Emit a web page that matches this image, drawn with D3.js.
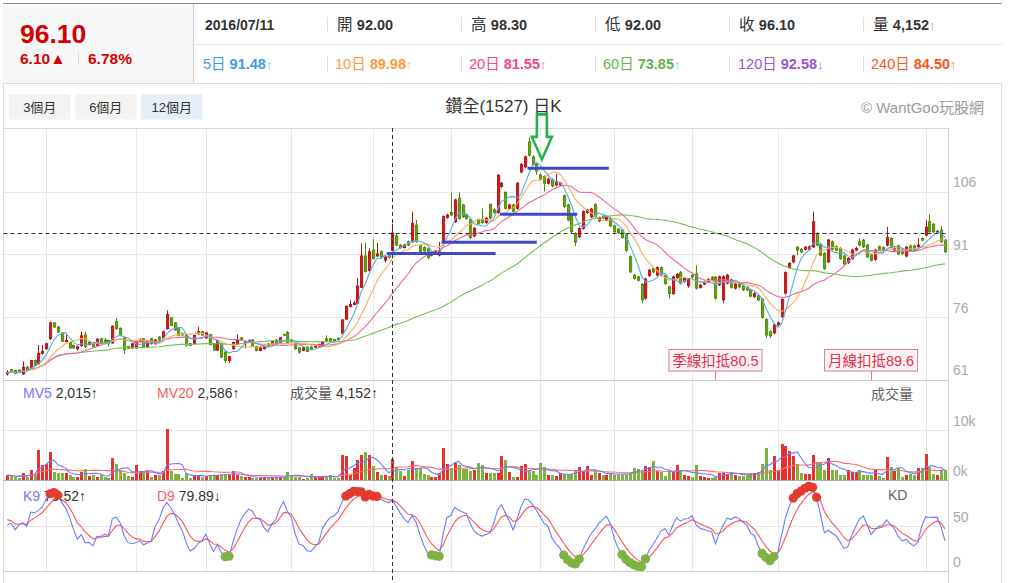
<!DOCTYPE html>
<html><head><meta charset="utf-8">
<script src="https://cdn.jsdelivr.net/npm/d3@7"></script>
<style>
html,body{margin:0;padding:0;background:#fff;}
svg{display:block;font-family:'Liberation Sans',Arial,'Noto Sans CJK TC',sans-serif;}
</style>
</head><body>
<svg id="c" width="1010" height="583"></svg>
<script>
// ---------------- DATA ----------------
const opens=[62.4,63.4,63.2,63.3,62.4,64.0,63.6,65.6,64.8,67.3,
68.4,70.8,74.6,73.6,72.2,70.1,69.9,69.2,68.4,69.2,
71.7,69.4,69.9,69.2,70.8,70.5,70.4,69.8,74.9,73.3,
71.0,68.9,68.6,68.6,70.2,70.8,68.9,70.8,69.6,71.2,
71.0,73.2,75.8,74.6,73.4,72.1,71.6,69.6,69.7,72.0,
72.5,71.0,71.8,69.6,68.1,69.6,67.6,65.6,68.4,69.6,
71.0,69.8,70.1,70.5,68.9,68.0,68.4,69.6,69.3,70.5,
69.8,71.8,72.3,70.5,69.7,68.6,68.0,68.8,68.8,68.8,
68.8,69.2,70.8,70.8,70.6,70.9,72.1,75.5,78.5,79.0,
79.3,83.1,90.6,87.1,92.0,90.6,91.6,89.6,91.2,92.0,
95.4,93.2,92.6,94.0,94.0,98.0,93.0,92.6,92.3,90.8,
91.1,90.8,94.0,99.8,101.0,98.8,104.4,102.8,100.4,99.3,
95.4,99.1,99.2,98.6,102.9,101.6,101.0,107.2,105.8,102.0,
102.8,102.0,110.7,111.9,117.9,114.3,112.5,110.0,109.6,108.0,
108.8,107.6,107.6,105.0,102.8,100.4,96.0,95.2,97.2,101.0,
100.0,102.9,99.0,100.1,99.2,99.6,97.8,97.0,96.8,95.8,
90.4,86.0,85.6,83.8,80.5,85.9,87.6,86.0,87.8,86.0,
83.2,81.6,85.4,86.6,84.5,83.5,86.0,86.3,83.1,83.9,
84.5,85.5,85.5,83.7,80.1,84.1,84.9,82.9,83.9,83.4,
83.1,82.5,80.9,81.1,80.2,75.4,72.5,72.2,74.1,76.1,
81.7,87.9,89.2,92.7,92.2,92.2,92.2,92.8,96.0,93.2,
91.2,89.2,94.0,92.8,92.4,90.6,89.0,90.0,92.0,94.0,
94.4,93.2,90.8,89.8,92.8,92.6,93.2,94.8,92.0,93.0,
92.0,90.6,93.0,93.0,92.8,94.8,95.6,98.8,98.2,96.2,
96.8,94.4];
const highs=[63.3,63.6,63.4,63.5,65.4,64.3,65.7,65.8,69.3,69.3,
69.8,74.9,74.8,73.8,72.4,71.7,70.1,69.4,69.1,72.5,
72.5,70.2,70.1,70.9,71.0,70.9,70.6,74.0,75.8,73.5,
71.2,69.1,69.8,70.3,70.9,71.0,70.4,71.0,70.7,71.4,
72.7,77.6,76.0,74.8,73.6,72.3,71.8,69.8,71.8,73.6,
72.7,72.4,72.0,69.8,70.6,69.8,67.8,66.7,70.1,71.8,
71.2,70.4,70.6,70.7,69.1,68.8,69.2,69.8,70.4,70.7,
71.2,72.0,72.7,70.7,69.9,68.8,68.8,69.0,69.0,69.4,
69.6,70.2,71.6,71.0,70.8,71.1,75.5,78.8,80.0,79.8,
85.3,93.6,93.8,92.4,94.6,93.7,92.0,90.8,91.5,98.3,
96.0,93.5,93.5,94.3,101.2,99.2,93.3,92.9,92.6,91.7,
91.9,94.0,100.3,100.7,105.8,104.3,105.8,103.1,100.7,99.6,
97.5,99.4,102.0,99.9,103.2,102.0,110.2,108.3,106.1,103.1,
103.1,108.3,112.8,114.6,119.0,114.8,112.8,110.3,109.9,109.3,
109.2,110.3,108.3,105.3,103.1,100.7,96.3,97.5,101.5,101.9,
102.1,103.2,100.0,100.4,100.3,99.9,98.1,97.3,97.1,96.1,
90.7,86.3,85.9,84.1,85.4,87.5,87.9,88.1,88.1,86.3,
83.5,85.9,86.5,87.0,85.5,85.3,86.4,88.4,83.9,84.7,
85.3,85.8,85.8,85.9,86.0,86.3,85.2,84.2,84.2,83.7,
83.4,82.8,81.9,81.4,80.5,75.7,72.8,74.4,74.9,80.5,
86.9,89.1,90.9,92.9,92.5,93.0,93.1,101.2,96.3,93.5,
91.5,94.7,94.3,93.1,92.7,90.9,90.3,92.3,92.8,94.8,
94.7,93.5,91.1,92.3,93.1,92.9,97.6,95.1,92.7,93.3,
92.3,93.0,93.3,93.3,94.8,95.1,99.2,100.6,98.5,96.8,
97.8,94.7];
const lows=[62.0,62.7,62.3,62.8,62.2,63.2,63.4,64.2,64.6,67.0,
68.2,70.5,73.4,72.2,70.0,70.0,68.4,68.4,68.0,68.8,
68.6,69.2,68.7,69.0,69.5,69.4,69.0,69.6,73.0,71.4,
67.2,68.3,68.4,68.4,70.0,68.7,68.7,69.4,69.4,70.3,
70.8,73.0,73.8,72.7,71.4,71.5,68.9,69.0,69.5,71.8,
71.5,70.8,69.2,67.9,67.9,66.2,65.0,65.0,68.2,69.4,
70.3,68.5,69.9,69.0,67.8,67.8,68.2,69.0,69.1,69.5,
69.6,71.5,69.7,69.9,68.2,67.2,67.8,67.6,68.1,68.6,
68.6,69.0,70.0,70.1,70.0,70.4,71.9,75.2,78.3,78.8,
79.1,83.0,86.6,86.9,89.8,90.4,90.1,89.0,90.0,92.0,
93.0,92.3,92.4,92.9,93.8,93.8,91.4,91.5,89.9,90.5,
90.9,90.5,93.8,99.5,100.2,98.5,99.3,99.7,99.3,94.7,
95.1,98.1,98.3,98.3,99.4,100.7,100.7,106.9,101.7,101.7,
101.0,101.7,110.4,111.6,114.4,112.2,110.0,108.5,106.0,107.7,
107.0,107.3,107.3,102.1,98.9,96.1,93.0,94.9,96.9,100.7,
99.7,99.7,98.7,99.4,98.9,97.5,96.1,95.9,94.7,91.6,
86.5,84.9,84.5,79.3,80.2,85.6,86.5,85.7,85.7,83.7,
80.4,81.3,85.1,83.8,84.2,83.0,85.3,82.6,82.8,83.6,
84.2,84.7,80.2,83.4,79.3,83.8,82.8,82.6,82.9,82.2,
82.2,80.7,80.6,79.8,75.6,70.9,71.0,71.9,73.8,75.8,
81.4,87.6,88.9,90.8,91.3,91.9,91.9,92.5,92.9,90.5,
87.3,88.9,91.9,91.7,89.7,88.4,88.7,89.7,91.7,92.9,
92.5,90.1,89.3,89.5,91.9,91.9,92.9,92.4,91.7,90.8,
90.9,90.3,91.6,91.6,92.5,94.1,95.3,96.1,96.1,95.9,
93.7,91.3];
const closes=[62.7,62.9,62.5,63.0,64.0,63.4,65.6,64.4,67.3,67.8,
69.6,74.6,73.6,72.4,70.2,70.4,68.6,68.6,68.9,71.5,
68.9,69.9,68.9,70.7,69.7,70.1,69.6,73.8,73.2,71.6,
68.2,68.5,69.6,70.1,70.5,68.9,70.2,69.6,70.5,70.5,
72.5,76.6,74.0,72.9,71.6,71.7,69.3,69.2,71.6,72.5,
71.7,72.2,69.4,68.1,70.4,66.4,65.6,66.5,69.9,70.4,
70.5,70.2,70.4,69.2,68.0,68.6,69.0,69.2,70.2,69.7,
71.0,71.7,69.9,70.1,68.4,67.6,68.6,67.8,68.3,69.2,
69.4,70.0,70.2,70.3,70.2,70.6,75.3,78.5,79.0,79.3,
83.4,90.6,86.9,91.6,90.0,91.1,90.3,90.3,90.3,96.1,
93.2,92.6,93.2,93.2,98.4,94.0,91.6,91.8,90.2,91.4,
91.6,91.6,100.0,100.4,100.4,104.0,99.6,100.0,99.6,95.0,
97.2,98.4,98.6,99.6,99.7,101.0,109.9,108.0,102.0,102.8,
101.3,108.0,112.5,114.3,114.7,112.5,110.9,109.0,108.0,109.0,
107.4,108.4,108.0,102.4,99.2,96.4,93.9,97.2,101.2,101.6,
101.8,100.0,99.7,99.7,100.0,97.8,96.4,96.2,95.0,91.9,
86.8,85.2,84.8,80.1,85.1,87.2,86.8,87.8,86.0,84.0,
81.6,85.6,86.2,84.1,85.2,85.0,85.6,82.9,83.6,84.4,
85.0,85.0,80.5,85.6,85.6,86.0,83.1,83.9,83.2,82.5,
82.5,81.0,81.6,80.1,75.9,71.7,71.5,74.1,74.6,80.2,
86.6,88.8,90.6,92.0,91.6,92.7,92.8,98.8,93.2,90.8,
87.6,94.4,92.2,92.0,90.0,88.7,90.0,92.0,92.4,93.2,
92.8,90.4,89.6,92.0,92.2,92.2,95.0,92.7,92.4,91.1,
91.2,92.7,91.9,91.9,93.2,94.4,97.5,96.4,96.4,96.5,
94.0,91.6];
// volume in thousands of lots
const volumes=[1.0,0.8,0.6,0.5,1.5,0.6,2.1,1.1,6.1,3.0,
3.3,5.7,1.7,1.5,1.5,1.5,1.1,0.7,0.7,1.7,
2.3,0.8,1.1,0.7,1.1,0.6,0.5,4.5,3.3,2.1,
1.5,0.8,0.7,3.0,1.9,1.9,1.9,0.6,1.0,1.0,
1.9,10.3,1.8,1.3,1.3,0.5,1.5,0.5,0.8,1.1,
0.6,0.8,1.1,1.1,1.1,1.1,1.1,1.1,1.8,1.0,
0.8,0.6,0.6,0.5,0.5,0.5,0.5,0.5,0.6,0.6,
0.6,0.6,1.6,1.1,0.7,0.6,0.3,0.5,1.3,0.6,
0.6,0.7,0.6,1.0,0.5,0.5,5.0,4.8,1.1,2.5,
4.1,5.0,5.7,5.0,2.9,1.6,1.1,1.1,0.8,4.152,
2.6,1.8,0.8,2.1,3.8,2.5,2.5,1.3,1.1,0.6,
0.6,1.5,6.5,3.3,2.5,3.5,3.0,2.3,2.3,1.8,
2.1,3.5,3.0,1.5,1.5,1.5,1.5,4.8,4.1,1.6,
0.6,0.6,2.8,3.3,1.8,1.8,1.1,3.5,2.6,1.1,
1.1,0.8,1.5,1.1,1.3,1.3,1.8,2.6,1.8,2.8,
1.1,1.8,1.5,1.1,1.1,1.3,1.1,1.1,1.1,1.1,
1.5,2.5,2.3,1.9,2.8,2.6,3.8,1.8,1.7,0.8,
1.9,1.7,3.0,1.8,1.1,0.9,0.7,3.0,0.9,0.7,
0.5,0.5,0.6,1.5,1.5,1.3,1.7,1.0,0.8,0.8,
1.0,1.5,1.5,1.7,3.3,6.5,2.1,4.9,2.1,7.3,
6.9,5.8,4.8,3.3,1.5,1.3,1.3,5.0,3.7,3.7,
2.1,4.5,2.1,2.1,1.1,1.1,2.1,1.6,1.6,2.1,
1.0,1.1,1.1,2.1,0.8,0.5,4.7,2.6,1.9,2.5,
0.6,1.1,1.3,1.1,2.5,2.5,5.3,2.6,1.3,1.1,
2.1,2.1];
const monthStarts=[10,33,51,73,94,114,137,156,176,198,236];
const priceTicks=[61,76,91,106];
const volTicks=[0,10];
const kdTicks=[0,50];
const kdInit=[50,60];           // K, D before first bar (read from left edge)
const crossIdx=99;              // hovered day 2016/07/11
const crossPrice=96.10;
// user-drawn level lines
const levelFrom=[97.5,111.6,126.6,133.7];
const levelTo=[125.5,136.1,146.5,154.6];
const levelPrice=[91.2,93.9,100.6,111.6];
const arrowIdx=137.4, arrowPrice=113.7;
// header
const hdrLabels=['開','高','低','收','量'];
const hdrValues=['92.00','98.30','92.00','96.10','4,152'];
const maNames=['5日','10日','20日','60日','120日','240日'];
const maVals=['91.48','89.98','81.55','73.85','92.58','84.50'];
const maArrows=['↑','↑','↑','↑','↓','↑'];
const maCols=['#3a9be8','#ff9a3c','#f6477f','#62b446','#9a55d0','#ff5419'];
const ranges=['3個月','6個月','12個月'];

// ---------------- DRAWING ----------------
const svg=d3.select('#c');
const N=closes.length;
const x=d3.scaleLinear().domain([0,N-1]).range([7.3,945]);
const yP=d3.scaleLinear().domain([61,121]).range([379.7,128.9]);
const yV=d3.scaleLinear().domain([0,20]).range([480,380]);
const yK=d3.scaleLinear().domain([0,100]).range([571,481]);
const RED='#d3191d', GREEN='#63a40c';
const L=3.5, R=948.5;

// frame / header
svg.append('rect').attr('x',3).attr('y',3.5).attr('width',190).attr('height',80).attr('fill','#f7f7f7');
svg.append('line').attr('x1',3).attr('x2',1002).attr('y1',3.5).attr('y2',3.5).attr('stroke','#8a8a8a').attr('stroke-width',1.2);
svg.append('line').attr('x1',193.5).attr('x2',193.5).attr('y1',4).attr('y2',83).attr('stroke','#cfcfcf');
svg.append('line').attr('x1',194).attr('x2',1002).attr('y1',44.5).attr('y2',44.5).attr('stroke','#e6e6e6');
svg.append('line').attr('x1',3).attr('x2',1002).attr('y1',83.5).attr('y2',83.5).attr('stroke','#dcdcdc');
svg.append('line').attr('x1',3.5).attr('x2',3.5).attr('y1',83).attr('y2',583).attr('stroke','#dcdcdc');
svg.append('line').attr('x1',1001.5).attr('x2',1001.5).attr('y1',83).attr('y2',583).attr('stroke','#dcdcdc');

svg.append('text').attr('x',20).attr('y',43).attr('font-size',26.5).attr('font-weight','bold').attr('fill','#d40000').text('96.10');
svg.append('text').attr('x',20).attr('y',64).attr('font-size',15.5).attr('font-weight','bold').attr('fill','#d40000').text('6.10▲');
svg.append('line').attr('x1',78.5).attr('x2',78.5).attr('y1',52).attr('y2',65).attr('stroke','#d8d8d8');
svg.append('text').attr('x',88).attr('y',64).attr('font-size',15.5).attr('font-weight','bold').attr('fill','#d40000').text('6.78%');

const colX=[205,337,471,605,739,873];
svg.append('text').attr('x',colX[0]).attr('y',29.5).attr('font-size',14).attr('font-weight','bold').attr('fill','#333').text('2016/07/11');
hdrLabels.forEach((lab,k)=>{
  const t=svg.append('text').attr('x',colX[k+1]).attr('y',29.5).attr('font-size',14.5).attr('fill','#333');
  t.append('tspan').attr('font-size',15.5).text(lab+' ');
  t.append('tspan').attr('font-weight','bold').text(hdrValues[k]);
  if(k===4) t.append('tspan').attr('fill','#999').attr('font-size',13).text('↑');
  svg.append('line').attr('x1',colX[k+1]-9.5).attr('x2',colX[k+1]-9.5).attr('y1',17).attr('y2',32).attr('stroke','#e0e0e0');
});
maNames.forEach((nm,k)=>{
  const t=svg.append('text').attr('x',colX[k]-2+(k===4?1:0)).attr('y',69).attr('font-size',14.5).attr('fill',maCols[k]);
  t.append('tspan').text(nm+' ');
  t.append('tspan').attr('font-weight','bold').text(maVals[k]);
  t.append('tspan').attr('font-size',13).attr('opacity',0.8).text(maArrows[k]);
  if(k>0) svg.append('line').attr('x1',colX[k]-9.5).attr('x2',colX[k]-9.5).attr('y1',56).attr('y2',72).attr('stroke','#e0e0e0');
});

// range buttons
ranges.forEach((r,k)=>{
  const bx=9+k*66;
  svg.append('rect').attr('x',bx).attr('y',94).attr('width',61.5).attr('height',25.5).attr('fill',k===2?'#e6eef8':'#f3f3f3');
  svg.append('text').attr('x',bx+30.75).attr('y',112).attr('text-anchor','middle').attr('font-size',13).attr('fill','#333').text(r);
});
svg.append('text').attr('x',503.5).attr('y',112).attr('text-anchor','middle').attr('font-size',17).attr('fill','#333').text('鑽全(1527) 日K');
svg.append('text').attr('x',984).attr('y',113).attr('text-anchor','end').attr('font-size',15).attr('fill','#9a9a9a').text('© WantGoo玩股網');

// panel frames and gridlines
const grid=svg.append('g').attr('stroke','#e8e8e8').attr('shape-rendering','crispEdges');
[[128,380],[380,480],[481,571]].forEach(([t,b])=>{
  monthStarts.forEach(m=>grid.append('line').attr('x1',Math.round(x(m))+0.5).attr('x2',Math.round(x(m))+0.5).attr('y1',t).attr('y2',b));
});
priceTicks.slice(1).forEach(v=>grid.append('line').attr('x1',L).attr('x2',R).attr('y1',Math.round(yP(v))+0.5).attr('y2',Math.round(yP(v))+0.5));
grid.append('line').attr('x1',L).attr('x2',R).attr('y1',yV(10)+0.5).attr('y2',yV(10)+0.5);
grid.append('line').attr('x1',L).attr('x2',R).attr('y1',yK(50)+0.5).attr('y2',yK(50)+0.5);
const frame=svg.append('g').attr('shape-rendering','crispEdges').attr('fill','none');
frame.append('line').attr('x1',3).attr('x2',R).attr('y1',128.5).attr('y2',128.5).attr('stroke','#dadada');
frame.append('line').attr('x1',3).attr('x2',R).attr('y1',380.5).attr('y2',380.5).attr('stroke','#c8c8c8');
frame.append('line').attr('x1',3).attr('x2',R).attr('y1',480.5).attr('y2',480.5).attr('stroke','#b0b0b0');
frame.append('line').attr('x1',3).attr('x2',R).attr('y1',571.5).attr('y2',571.5).attr('stroke','#cfcfcf');
frame.append('line').attr('x1',R).attr('x2',R).attr('y1',128).attr('y2',583).attr('stroke','#d0d0d0');

// axis labels
const axT=svg.append('g').attr('font-size',14).attr('fill','#aaa');
priceTicks.forEach(v=>axT.append('text').attr('x',953).attr('y',yP(v)-4.5).text(v));
volTicks.forEach(v=>axT.append('text').attr('x',953).attr('y',yV(v)-4).text(v+'k'));
kdTicks.forEach(v=>axT.append('text').attr('x',953).attr('y',yK(v)-4).text(v));

// candles
const idx=d3.range(N);
const up=i=>closes[i]>=opens[i];
const cg=svg.append('g');
cg.selectAll('line').data(idx).join('line')
  .attr('x1',i=>Math.round(x(i))+0.5).attr('x2',i=>Math.round(x(i))+0.5)
  .attr('y1',i=>yP(highs[i])).attr('y2',i=>yP(lows[i]))
  .attr('stroke',i=>up(i)?'#b01313':'#4e8806').attr('stroke-width',1);
cg.selectAll('rect').data(idx).join('rect')
  .attr('x',i=>Math.round(x(i))-0.5).attr('width',2.2)
  .attr('y',i=>yP(Math.max(opens[i],closes[i])))
  .attr('height',i=>Math.max(0.6,yP(Math.min(opens[i],closes[i]))-yP(Math.max(opens[i],closes[i]))))
  .attr('fill',i=>up(i)?RED:GREEN)
  .attr('stroke',i=>up(i)?'#b01313':'#4e8806').attr('stroke-width',0.9);

// moving averages
const ma=(arr,n)=>arr.map((v,i)=>d3.mean(arr.slice(Math.max(0,i-n+1),i+1)));
const lineP=d3.line().x((d,i)=>x(i)).y(d=>yP(d));
[[60,'#74c15a'],[20,'#f0679a'],[10,'#ffa95a'],[5,'#55aeea']].forEach(([n,c])=>{
  svg.append('path').attr('d',lineP(ma(closes,n))).attr('fill','none').attr('stroke',c).attr('stroke-width',1.1);
});

// level annotations
levelPrice.forEach((p,k)=>{
  svg.append('line').attr('x1',x(levelFrom[k])).attr('x2',x(levelTo[k])).attr('y1',yP(p)).attr('y2',yP(p))
    .attr('stroke','#3f48cc').attr('stroke-width',3);
});
// arrow
{
  const tx=x(arrowIdx), ty=yP(arrowPrice);
  const pts=[[tx-5,ty-45],[tx+5,ty-45],[tx+5,ty-22.5],[tx+10,ty-22.5],[tx,ty],[tx-10,ty-22.5],[tx-5,ty-22.5]];
  svg.append('polygon').attr('points',pts.map(p=>p.join(',')).join(' ')).attr('fill','none').attr('stroke','#22b14c').attr('stroke-width',2.6);
}

// deduction tags (季線 = 60-day, 月線 = 20-day)
[[60,'季線扣抵'],[20,'月線扣抵']].forEach(([n,lab])=>{
  const i=N-n, cx=x(i);
  const txt=lab+closes[i].toFixed(1);
  svg.append('line').attr('x1',Math.round(cx)+0.5).attr('x2',Math.round(cx)+0.5).attr('y1',371).attr('y2',380).attr('stroke','#e07a8e');
  svg.append('rect').attr('x',cx-46.5).attr('y',349.5).attr('width',93).attr('height',21.5).attr('fill','#fff4f6').attr('stroke','#e07a8e');
  svg.append('text').attr('x',cx).attr('y',366).attr('text-anchor','middle').attr('font-size',14.5).attr('fill','#e0304c').text(txt);
});

// volume
const vg=svg.append('g').attr('shape-rendering','crispEdges');
vg.selectAll('rect').data(idx).join('rect')
  .attr('x',i=>Math.round(x(i))-1).attr('width',3)
  .attr('y',i=>yV(volumes[i])).attr('height',i=>yV(0)-yV(volumes[i]))
  .attr('fill',i=>up(i)?'#e8302c':'#7db340');
const lineV=d3.line().x((d,i)=>x(i)).y(d=>yV(d));
svg.append('path').attr('d',lineV(ma(volumes,20))).attr('fill','none').attr('stroke','#ff6b6b').attr('stroke-width',1.1);
svg.append('path').attr('d',lineV(ma(volumes,5))).attr('fill','none').attr('stroke','#6f7dff').attr('stroke-width',1.1);

const vt=svg.append('g').attr('font-size',14);
{
  let t=vt.append('text').attr('x',23).attr('y',398);
  t.append('tspan').attr('fill','#7777ff').text('MV5 ');
  t.append('tspan').attr('fill','#333').text('2,015↑');
  t=vt.append('text').attr('x',157).attr('y',398);
  t.append('tspan').attr('fill','#ff5a5a').text('MV20 ');
  t.append('tspan').attr('fill','#333').text('2,586↑');
  t=vt.append('text').attr('x',290).attr('y',398);
  t.append('tspan').attr('fill','#555').text('成交量 ');
  t.append('tspan').attr('fill','#333').text('4,152↑');
  vt.append('text').attr('x',871).attr('y',399).attr('fill','#666').text('成交量');
}

// KD
const K=[],D=[];
{
  let k=kdInit[0], d=kdInit[1];
  for(let i=0;i<N;i++){
    const s=Math.max(0,i-8);
    const lo=d3.min(lows.slice(s,i+1)), hi=d3.max(highs.slice(s,i+1));
    const rsv=hi>lo?(closes[i]-lo)/(hi-lo)*100:50;
    k=k*2/3+rsv/3; d=d*2/3+k/3; K.push(k); D.push(d);
  }
}
const lineK=d3.line().x((d,i)=>x(i)).y(d=>yK(d));
svg.append('path').attr('d',lineK(D)).attr('fill','none').attr('stroke','#ff5252').attr('stroke-width',1.1);
svg.append('path').attr('d',lineK(K)).attr('fill','none').attr('stroke','#6b7cff').attr('stroke-width',1.1);
{
  let t=vt.append('text').attr('x',23).attr('y',501);
  t.append('tspan').attr('fill','#7777ff').text('K9 ');
  t.append('tspan').attr('fill','#333').text('79.52↑');
  t=vt.append('text').attr('x',157).attr('y',501);
  t.append('tspan').attr('fill','#ff5a5a').text('D9 ');
  t.append('tspan').attr('fill','#333').text('79.89↓');
  vt.append('text').attr('x',888).attr('y',500).attr('fill','#666').text('KD');
}
svg.append('g').selectAll('circle').data(idx.filter(i=>K[i]>=80||K[i]<=20)).join('circle')
  .attr('cx',i=>x(i)).attr('cy',i=>yK(K[i])).attr('r',4.6)
  .attr('fill',i=>K[i]>=80?'#e53a30':'#7cb342');

// crosshair
const cxh=Math.round(x(crossIdx))+0.5;
svg.append('line').attr('x1',cxh).attr('x2',cxh).attr('y1',128).attr('y2',583).attr('stroke','#333').attr('stroke-dasharray','4,3');
svg.append('line').attr('x1',L).attr('x2',R).attr('y1',Math.round(yP(crossPrice))+0.5).attr('y2',Math.round(yP(crossPrice))+0.5).attr('stroke','#333').attr('stroke-dasharray','4,3');
</script>
</body></html>
